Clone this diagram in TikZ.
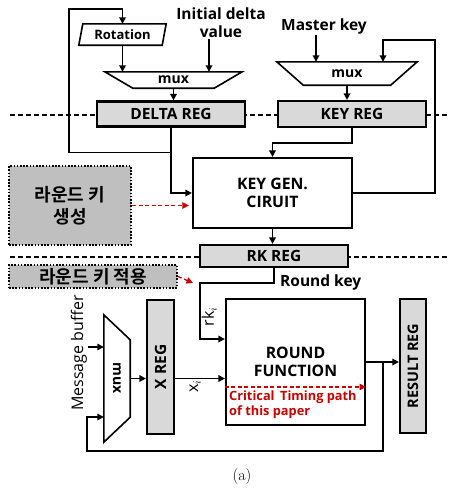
\documentclass[tikz,border=0pt]{standalone}
\usepackage{fontspec}
\newfontfamily\labfont{Open Sans}
\newfontfamily\krfont{Noto Sans CJK KR}[BoldFont={Noto Sans CJK KR Bold}]
\usetikzlibrary{arrows.meta,positioning}
\definecolor{critred}{RGB}{200,0,0}

\begin{document}
\begin{tikzpicture}[
  x=1pt,y=-1pt,
  >={Triangle[length=6.5pt,width=6.5pt]},
  wire/.style={line width=1.6pt},
  sepline/.style={line width=1.4pt,dash pattern=on 5pt off 3pt},
  reg/.style={draw,line width=2.2pt,fill=black!15,inner sep=0pt,
    font=\labfont\bfseries\fontsize{15.5}{18}\selectfont},
  block/.style={draw,line width=2.2pt,fill=white,inner sep=0pt,align=center,
    font=\labfont\bfseries\fontsize{15.8}{18.5}\selectfont},
  muxbox/.style={inner sep=0pt,font=\labfont\bfseries\fontsize{14}{16}\selectfont},
  krbox/.style={draw,line width=2pt,dash pattern=on 1.6pt off 1.6pt,fill=black!25,
    inner sep=0pt,align=center,font=\krfont\bfseries\fontsize{18}{22}\selectfont},
  tag/.style={inner sep=1pt,align=center,font=\labfont\bfseries\fontsize{15.5}{18}\selectfont},
  sublbl/.style={inner sep=1pt,font=\labfont\fontsize{16}{18}\selectfont},
  crit/.style={draw=critred,line width=1.3pt,dash pattern=on 4pt off 2.5pt},
  crittext/.style={inner sep=0pt,align=left,text=critred,
    font=\labfont\bfseries\fontsize{12.8}{15}\selectfont},
]
  \useasboundingbox (0,0) rectangle (448,490);

  % pipeline stage borders
  \draw[sepline] (10,115) -- (448,115);
  \draw[sepline] (10,257) -- (448,257);

  % delta path
  \node[muxbox,minimum width=87pt,minimum height=21pt,font=\labfont\bfseries\fontsize{13}{15}\selectfont]
    (rot) at (122.5,34.5) {Rotation};
  \draw[wire] ([xshift=4pt]rot.north west) -- (rot.north east)
    -- ([xshift=-4pt]rot.south east) -- (rot.south west) -- cycle;
  \node[tag] (initdelta) at (221,23) {Initial delta\\value};
  \node[muxbox,minimum width=137pt,minimum height=16pt] (dmux) at (173.5,80) {mux};
  \draw[wire] (dmux.north west) -- (dmux.north east)
    -- ([xshift=-28pt]dmux.south east) -- ([xshift=28pt]dmux.south west) -- cycle;
  \node[reg,minimum width=148pt,minimum height=25pt] (dreg) at (171,114) {DELTA REG};

  % key path
  \node[tag] (mkey) at (324,26) {Master key};
  \node[muxbox,minimum width=140pt,minimum height=23pt] (kmux) at (347,73.5) {mux};
  \draw[wire] (kmux.north west) -- (kmux.north east)
    -- ([xshift=-26.5pt]kmux.south east) -- ([xshift=26.5pt]kmux.south west) -- cycle;
  \node[reg,minimum width=148pt,minimum height=26pt] (kreg) at (352,114) {KEY REG};
  \node[block,minimum width=159pt,minimum height=70pt] (kgen) at (272.5,193) {KEY GEN.\\CIRUIT};
  \node[reg,minimum width=148pt,minimum height=22pt] (rkreg) at (274,256) {RK REG};

  % round path
  \node[muxbox,minimum width=26pt,minimum height=127pt] (imux) at (117,378.5) {\rotatebox{-90}{mux}};
  \draw[wire] (imux.north west) -- ([yshift=-25pt]imux.north east)
    -- ([yshift=25pt]imux.south east) -- (imux.south west) -- cycle;
  \node[reg,minimum width=27pt,minimum height=134pt] (xreg) at (160.5,367) {\rotatebox{90}{X REG}};
  \node[block,minimum width=139pt,minimum height=126pt] (rf) at (295.5,362) {ROUND\\FUNCTION};
  \node[reg,minimum width=26pt,minimum height=134pt,font=\labfont\bfseries\fontsize{14.5}{17}\selectfont]
    (resreg) at (413,366) {\rotatebox{90}{RESULT REG}};
  \node[sublbl,rotate=90] (msgbuf) at (79,353) {Message buffer};

  % stage notes
  \node[krbox,minimum width=122pt,minimum height=79pt] (kgennote) at (70,205.5) {라운드 키\\생성};
  \node[krbox,minimum width=168pt,minimum height=23pt] (kappnote) at (93,276.5) {라운드 키 적용};

  \coordinate (dloop) at (69,9);
  \coordinate (kloop) at (435,40);
  \coordinate (rkbend) at (200,283);
  \coordinate (fbot) at (87,451);
  \coordinate (dtap) at ([yshift=-25pt]dreg.south);
  \coordinate (ftap) at ([xshift=17pt]rf.east);
  \coordinate (imuxin1) at ([yshift=31.5pt]imux.west);
  \coordinate (imuxin2) at ([yshift=-38.5pt]imux.west);
  \coordinate (kgenhit) at ([xshift=-3pt]kgen.west);
  \coordinate (rkhit) at ([xshift=-7pt]rkbend);

  \draw[wire,->] (rot.south) -- (rot.south |- dmux.north);
  \draw[wire,->] ([xshift=-12pt]initdelta.south) -- ([xshift=-12pt]initdelta.south |- dmux.north);
  \draw[wire,->] (dmux.south) -- (dmux.south |- dreg.north);
  \draw[wire,->] (dreg.south) |- (kgen.west);
  \draw[wire,->] (dtap) -| (dloop) -| (rot.north);

  \draw[wire,->] ([xshift=-8pt]mkey.south) -- ([xshift=-8pt]mkey.south |- kmux.north);
  \draw[wire,->] (kmux.south) -- (kmux.south |- kreg.north);
  \draw[wire,->] (kreg.south) -- ++(0,15) -| (kgen.north);
  \draw[wire,->] (kgen.east) -| (kloop) -| ([xshift=36pt]kmux.north);
  \draw[wire,->] (kgen.south) -- (kgen.south |- rkreg.north);

  \draw[wire,->] (rkreg.south) |- (rkbend) |- ([yshift=23pt]rf.west)
    node[sublbl,pos=0.3,rotate=90,anchor=north] {rk$_i$};
  \node[tag,anchor=west] (rklbl) at (279,282) {Round key};

  \draw[wire,->] (imuxin1 -| msgbuf.south) -- (imuxin1);
  \draw[wire,->] (imux.east) -- (imux.east -| xreg.west);
  \draw[wire,->] (xreg.east |- imux.east) -- (rf.west |- imux.east)
    node[sublbl,pos=0.4,rotate=90,anchor=east] {x$_i$};
  \draw[wire,->] (rf.east) -- (rf.east -| resreg.west);
  \draw[wire,->] (ftap) |- (fbot) |- (imuxin2);

  % critical path
  \draw[crit,->,critred] ([yshift=-25pt]rf.west) -- ([yshift=-25pt]rf.east);
  \node[crittext,anchor=west] (critlbl) at ([xshift=4pt,yshift=-43pt]rf.west) {Critical\, Timing path\\of this paper};

  \draw[crit,->,critred] (kgennote.east) -- (kgenhit |- kgennote.east);
  \draw[crit,->,critred] (kappnote.east) -- (rkhit);

  \node[font=\fontsize{16}{18}\selectfont] (cap) at (242,477) {(a)};
\end{tikzpicture}
\end{document}
